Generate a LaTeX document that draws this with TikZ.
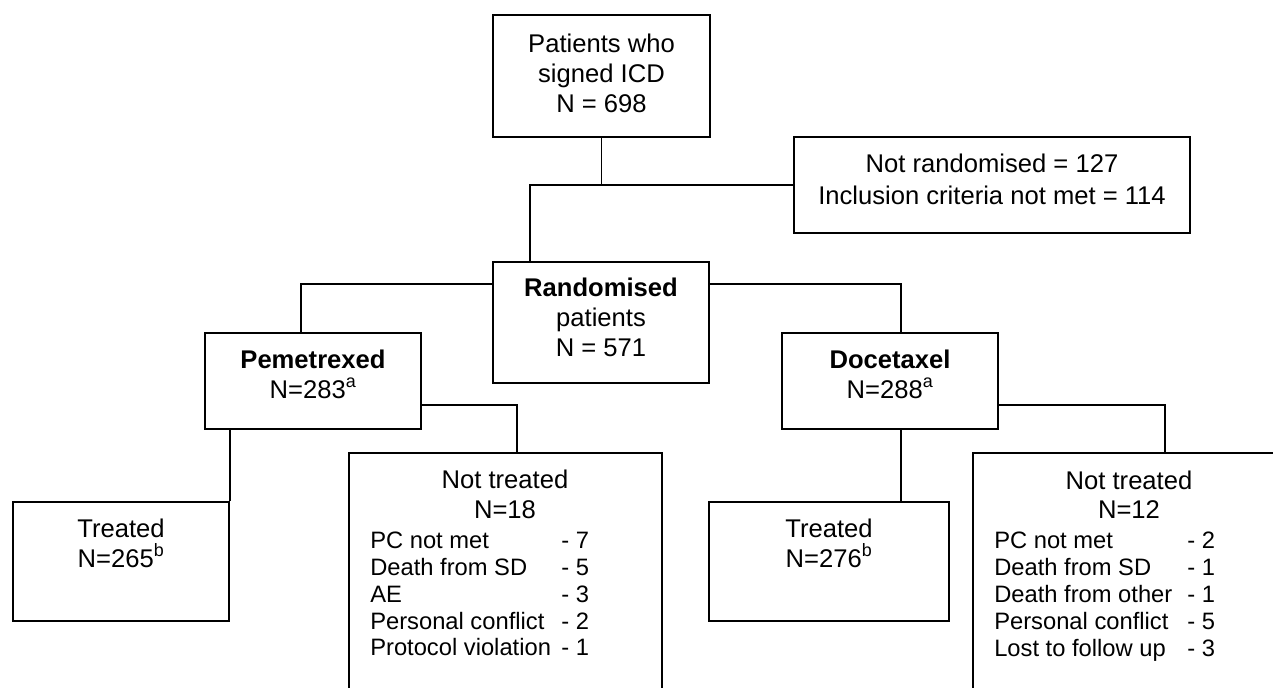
\documentclass[tikz,border=0pt]{standalone}
\usepackage{fontspec}
\setmainfont{Liberation Sans}
\usetikzlibrary{fit}
\begin{document}
\begin{tikzpicture}[x=0.75pt,y=-0.75pt,
  box/.style={draw,line width=1.4pt,inner sep=0pt,rectangle},
  conn/.style={draw,line width=1.4pt},
  txt/.style={inner sep=0pt,anchor=base,font=\fontsize{19.2}{22}\selectfont},
  ltxt/.style={inner sep=0pt,anchor=base west,font=\fontsize{17.8}{21}\selectfont}]
\useasboundingbox (0,0) rectangle (1273,687);
\clip (0,0) rectangle (1273,687);
\fill[white] (0,0) rectangle (1273,687);
% boxes
\node[box,fit={(493,15) (710,137)}] (top) {};
\node[box,fit={(794,137) (1190,233)}] (nr) {};
\node[box,fit={(493,262) (709,383)}] (rand) {};
\node[box,fit={(205,333) (421,429)}] (pem) {};
\node[box,fit={(782,333) (998,429)}] (doc) {};
\node[box,fit={(13,502) (229,621)}] (trL) {};
\node[box,fit={(349,453) (662,720)}] (ntL) {};
\node[box,fit={(709,502) (949,621)}] (trR) {};
\node[box,fit={(973,453) (1320,720)}] (ntR) {};
% texts
\node[txt] (top1) at (601.5,52) {Patients who};
\node[txt] (top2) at (601.5,82) {signed ICD};
\node[txt] (top3) at (601.5,112) {N = 698};
\node[txt] (nr1) at (992,172) {Not randomised = 127};
\node[txt] (nr2) at (992,204) {Inclusion criteria not met = 114};
\node[txt] (rand1) at (601,296) {\bfseries Randomised};
\node[txt] (rand2) at (601,326) {patients};
\node[txt] (rand3) at (601,356) {N = 571};
\node[txt] (pem1) at (313,368) {\bfseries Pemetrexed};
\node[txt] (pem2) at (313,398) {N=283\textsuperscript{a}};
\node[txt] (doc1) at (890,368) {\bfseries Docetaxel};
\node[txt] (doc2) at (890,398) {N=288\textsuperscript{a}};
\node[txt] (trL1) at (121,537) {Treated};
\node[txt] (trL2) at (121,567) {N=265\textsuperscript{b}};
\node[txt] (trR1) at (829,537) {Treated};
\node[txt] (trR2) at (829,567) {N=276\textsuperscript{b}};
\node[txt] (ntL1) at (505,488) {Not treated};
\node[txt] (ntL2) at (505,518) {N=18};
\node[ltxt] (ntLa) at (370,548) {PC not met};
\node[ltxt] (ntLb) at (370,575) {Death from SD};
\node[ltxt] (ntLc) at (370,602) {AE};
\node[ltxt] (ntLd) at (370,629) {Personal conflict};
\node[ltxt] (ntLe) at (370,655) {Protocol violation};
\node[ltxt] (ntLav) at (561,548) {- 7};
\node[ltxt] (ntLbv) at (561,575) {- 5};
\node[ltxt] (ntLcv) at (561,602) {- 3};
\node[ltxt] (ntLdv) at (561,629) {- 2};
\node[ltxt] (ntLev) at (561,655) {- 1};
\node[txt] (ntR1) at (1129,489) {Not treated};
\node[txt] (ntR2) at (1129,518) {N=12};
\node[ltxt] (ntRa) at (994,548) {PC not met};
\node[ltxt] (ntRb) at (994,575) {Death from SD};
\node[ltxt] (ntRc) at (994,602) {Death from other};
\node[ltxt] (ntRd) at (994,629) {Personal conflict};
\node[ltxt] (ntRe) at (994,656) {Lost to follow up};
\node[ltxt] (ntRav) at (1187,548) {- 2};
\node[ltxt] (ntRbv) at (1187,575) {- 1};
\node[ltxt] (ntRcv) at (1187,602) {- 1};
\node[ltxt] (ntRdv) at (1187,629) {- 5};
\node[ltxt] (ntRev) at (1187,656) {- 3};
% connectors
\coordinate (jtop) at (530,185);
\coordinate (rl) at (301,284);
\coordinate (rr) at (901,284);
\coordinate (pl) at (517,405);
\coordinate (dr) at (1165,405);
\draw[conn] (top.south) |- (nr.west);
\draw[conn] (top.south |- nr.west) -- (jtop) -- (jtop |- rand.north);
\draw[conn] (rand.west |- rl) -- (rl) -- (rl |- pem.north);
\draw[conn] (rand.east |- rr) -- (rr) -- (rr |- doc.north);
\draw[conn] (pem.south -| trL.east) -- (trL.north east);
\draw[conn] (pem.east |- pl) -- (pl) -- (pl |- ntL.north);
\draw[conn] (doc.south -| rr) -- (rr |- trR.north);
\draw[conn] (doc.east |- dr) -- (dr) -- (dr |- ntR.north);
\end{tikzpicture}
\end{document}
